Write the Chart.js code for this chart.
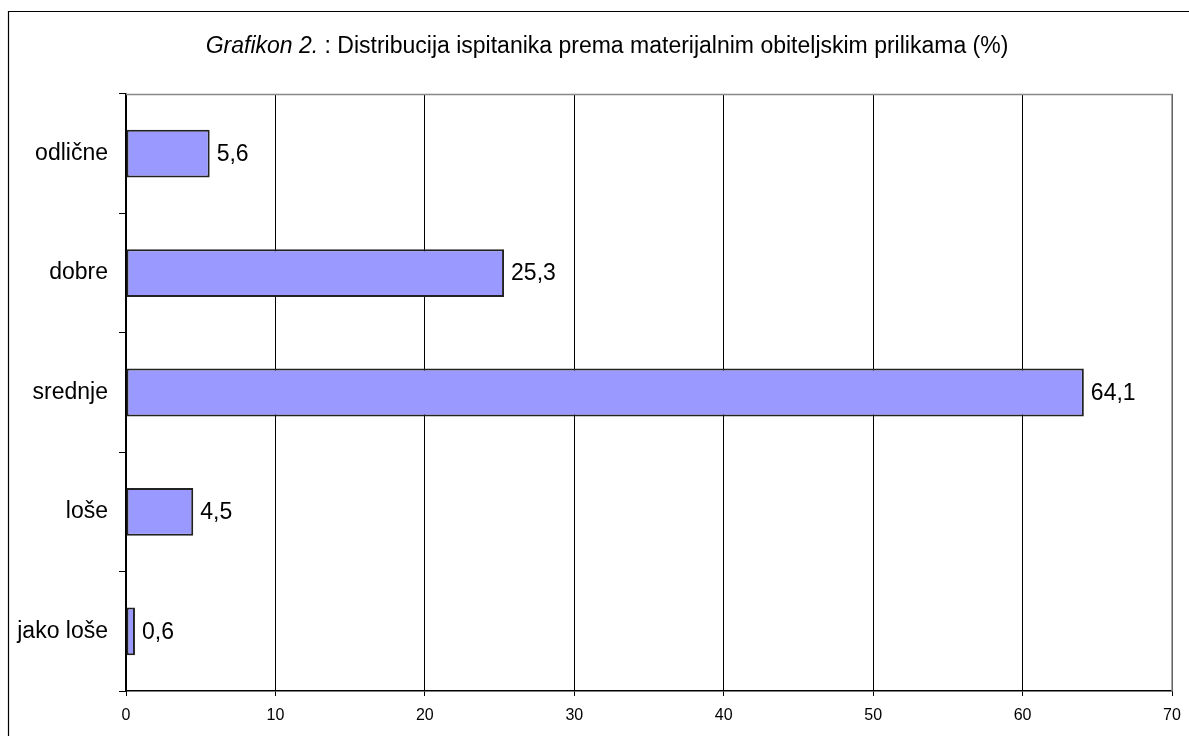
<!DOCTYPE html>
<html>
<head>
<meta charset="utf-8">
<script src="https://cdn.jsdelivr.net/npm/chart.js@4.4.1/dist/chart.umd.min.js"></script>
<style>
html,body{margin:0;padding:0;background:#fff;}
canvas{display:block;}
</style>
</head>
<body>
<canvas id="c" width="1189" height="736"></canvas>
<script>
const categories = ["odlične", "dobre", "srednje", "loše", "jako loše"];
const values = [5.6, 25.3, 64.1, 4.5, 0.6];
const valueLabels = ["5,6", "25,3", "64,1", "4,5", "0,6"];
const xTicks = [0, 10, 20, 30, 40, 50, 60, 70];
const titleItalic = "Grafikon 2.";
const titleRest = " : Distribucija ispitanika prema materijalnim obiteljskim prilikama (%)";

const FONT = "'Liberation Sans', Arial, sans-serif";

const decor = {
  id: 'decor',
  beforeDraw(chart) {
    const ctx = chart.ctx;
    ctx.save();
    ctx.fillStyle = '#fff';
    ctx.fillRect(0, 0, chart.width, chart.height);
    ctx.strokeStyle = '#000';
    ctx.lineWidth = 1.2;
    ctx.beginPath();
    ctx.moveTo(8.5, chart.height + 2);
    ctx.lineTo(8.5, 11.5);
    ctx.lineTo(chart.width + 2, 11.5);
    ctx.stroke();
    ctx.fillStyle = '#000';
    ctx.textBaseline = 'alphabetic';
    ctx.font = 'italic 23px ' + FONT;
    const w1 = ctx.measureText(titleItalic).width;
    ctx.font = '23px ' + FONT;
    const w2 = ctx.measureText(titleRest).width;
    const cx = 607;
    const x0 = cx - (w1 + w2) / 2;
    ctx.font = 'italic 23px ' + FONT;
    ctx.fillText(titleItalic, x0, 53);
    ctx.font = '23px ' + FONT;
    ctx.fillText(titleRest, x0 + w1, 53);
    ctx.restore();
  },
  beforeDatasetsDraw(chart) {
    const ctx = chart.ctx;
    const a = chart.chartArea;
    ctx.save();
    ctx.strokeStyle = '#888';
    ctx.lineWidth = 1.5;
    ctx.beginPath();
    ctx.moveTo(a.left, a.top + 0.5);
    ctx.lineTo(a.right, a.top + 0.5);
    ctx.lineTo(a.right, a.bottom);
    ctx.stroke();
    ctx.restore();
  },
  afterDatasetsDraw(chart) {
    const ctx = chart.ctx;
    const meta = chart.getDatasetMeta(0);
    ctx.save();
    ctx.fillStyle = '#000';
    ctx.font = '23px ' + FONT;
    ctx.textAlign = 'left';
    ctx.textBaseline = 'middle';
    meta.data.forEach((bar, i) => {
      ctx.fillText(valueLabels[i], bar.x + 7, bar.y + 1);
    });
    ctx.restore();
  }
};

new Chart(document.getElementById('c'), {
  type: 'bar',
  data: {
    labels: categories,
    datasets: [{
      data: values,
      backgroundColor: '#9999FF',
      borderColor: '#222',
      borderWidth: 2,
      borderSkipped: false,
      barPercentage: 0.4,
      categoryPercentage: 1.0
    }]
  },
  options: {
    indexAxis: 'y',
    responsive: false,
    animation: false,
    events: [],
    layout: { padding: { top: 94, right: 17, left: 0, bottom: 0 } },
    plugins: {
      legend: { display: false },
      title: { display: false },
      tooltip: { enabled: false }
    },
    scales: {
      x: {
        type: 'linear',
        min: 0,
        max: 70,
        afterBuildTicks(scale) { scale.ticks = xTicks.map(v => ({ value: v })); },
        afterFit(scale) { scale.height = 45; scale.paddingRight = 0; scale.paddingLeft = 0; },
        grid: {
          color: '#000',
          lineWidth: 1,
          tickLength: 5,
          drawTicks: true
        },
        border: { display: true, color: '#000', width: 1.5 },
        ticks: {
          color: '#000',
          font: { family: FONT, size: 16 },
          padding: 10,
          maxRotation: 0,
          callback: v => String(v)
        }
      },
      y: {
        type: 'category',
        afterFit(scale) { scale.width = 126; scale.paddingTop = 0; scale.paddingBottom = 0; },
        grid: {
          offset: true,
          drawOnChartArea: false,
          drawTicks: true,
          tickLength: 7,
          color: '#000',
          lineWidth: 1
        },
        border: { display: true, color: '#000', width: 1.5 },
        ticks: {
          color: '#000',
          font: { family: FONT, size: 23 },
          padding: 11
        }
      }
    }
  },
  plugins: [decor]
});
</script>
</body>
</html>
